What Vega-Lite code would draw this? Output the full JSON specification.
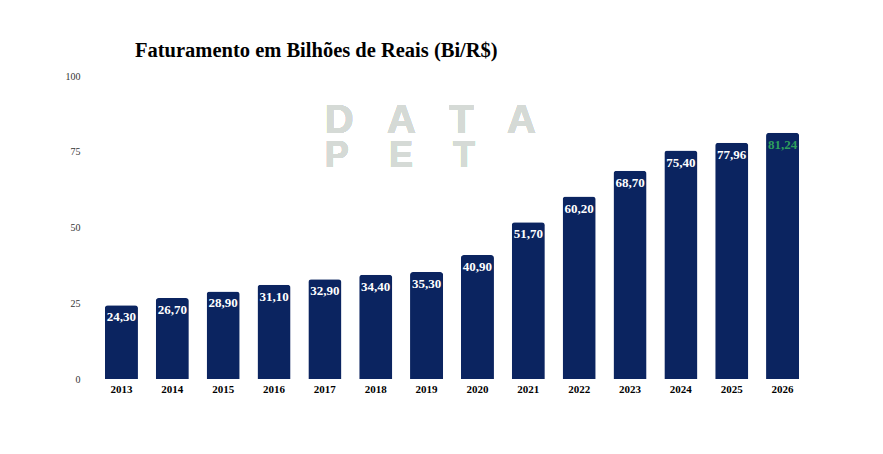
{
  "$schema": "https://vega.github.io/schema/vega-lite/v6.json",
  "width": 712,
  "height": 303,
  "autosize": {"type": "none"},
  "padding": {"left": 96, "top": 76, "right": 75, "bottom": 75},
  "background": "white",
  "title": {
    "text": "Faturamento em Bilhões de Reais (Bi/R$)",
    "anchor": "start",
    "dx": 70,
    "offset": 10,
    "font": "Liberation Serif",
    "fontSize": 20.5,
    "fontWeight": "bold",
    "color": "#000000"
  },
  "data": {
    "values": [
      {"ano": "2013", "valor": 24.3, "rotulo": "24,30", "tipo": "real"},
      {"ano": "2014", "valor": 26.7, "rotulo": "26,70", "tipo": "real"},
      {"ano": "2015", "valor": 28.9, "rotulo": "28,90", "tipo": "real"},
      {"ano": "2016", "valor": 31.1, "rotulo": "31,10", "tipo": "real"},
      {"ano": "2017", "valor": 32.9, "rotulo": "32,90", "tipo": "real"},
      {"ano": "2018", "valor": 34.4, "rotulo": "34,40", "tipo": "real"},
      {"ano": "2019", "valor": 35.3, "rotulo": "35,30", "tipo": "real"},
      {"ano": "2020", "valor": 40.9, "rotulo": "40,90", "tipo": "real"},
      {"ano": "2021", "valor": 51.7, "rotulo": "51,70", "tipo": "real"},
      {"ano": "2022", "valor": 60.2, "rotulo": "60,20", "tipo": "real"},
      {"ano": "2023", "valor": 68.7, "rotulo": "68,70", "tipo": "real"},
      {"ano": "2024", "valor": 75.4, "rotulo": "75,40", "tipo": "real"},
      {"ano": "2025", "valor": 77.96, "rotulo": "77,96", "tipo": "real"},
      {"ano": "2026", "valor": 81.24, "rotulo": "81,24", "tipo": "projecao"}
    ]
  },
  "encoding": {
    "x": {
      "field": "ano",
      "type": "ordinal",
      "scale": {"paddingInner": 0.35, "paddingOuter": 0.175},
      "axis": {
        "title": null,
        "labelAngle": 0,
        "domain": false,
        "ticks": false,
        "labelFont": "Liberation Serif",
        "labelFontWeight": "bold",
        "labelFontSize": 11,
        "labelColor": "#000000",
        "labelPadding": 4
      }
    },
    "y": {
      "field": "valor",
      "type": "quantitative",
      "scale": {"domain": [0, 100]},
      "axis": {
        "title": null,
        "values": [0, 25, 50, 75, 100],
        "grid": false,
        "domain": false,
        "ticks": false,
        "labelFont": "Liberation Serif",
        "labelFontSize": 10,
        "labelColor": "#333333",
        "labelPadding": 16
      }
    }
  },
  "layer": [
    {
      "mark": {
        "type": "text",
        "font": "Liberation Sans",
        "fontWeight": "bold",
        "fontSize": 40,
        "align": "left",
        "color": "#d5dad6"
      },
      "encoding": {
        "x": {"datum": "2017"},
        "y": {"datum": 85},
        "text": {"value": "D\u00a0\u00a0\u00a0A\u00a0\u00a0\u00a0T\u00a0\u00a0\u00a0A"}
      }
    },
    {
      "mark": {
        "type": "text",
        "font": "Liberation Sans",
        "fontWeight": "bold",
        "fontSize": 36,
        "align": "left",
        "color": "#d5dad6"
      },
      "encoding": {
        "x": {"datum": "2017"},
        "y": {"datum": 73.5},
        "text": {"value": "P\u00a0\u00a0\u00a0\u00a0E\u00a0\u00a0\u00a0\u00a0T"}
      }
    },
    {
      "mark": {
        "type": "bar",
        "color": "#0b2460",
        "cornerRadiusTopLeft": 3,
        "cornerRadiusTopRight": 3
      }
    },
    {
      "mark": {
        "type": "text",
        "baseline": "top",
        "dy": 6,
        "font": "Liberation Serif",
        "fontWeight": "bold",
        "fontSize": 13
      },
      "encoding": {
        "text": {"field": "rotulo"},
        "color": {
          "field": "tipo",
          "type": "nominal",
          "scale": {"domain": ["real", "projecao"], "range": ["#ffffff", "#2e9e5c"]},
          "legend": null
        }
      }
    }
  ],
  "config": {"view": {"stroke": null}}
}
